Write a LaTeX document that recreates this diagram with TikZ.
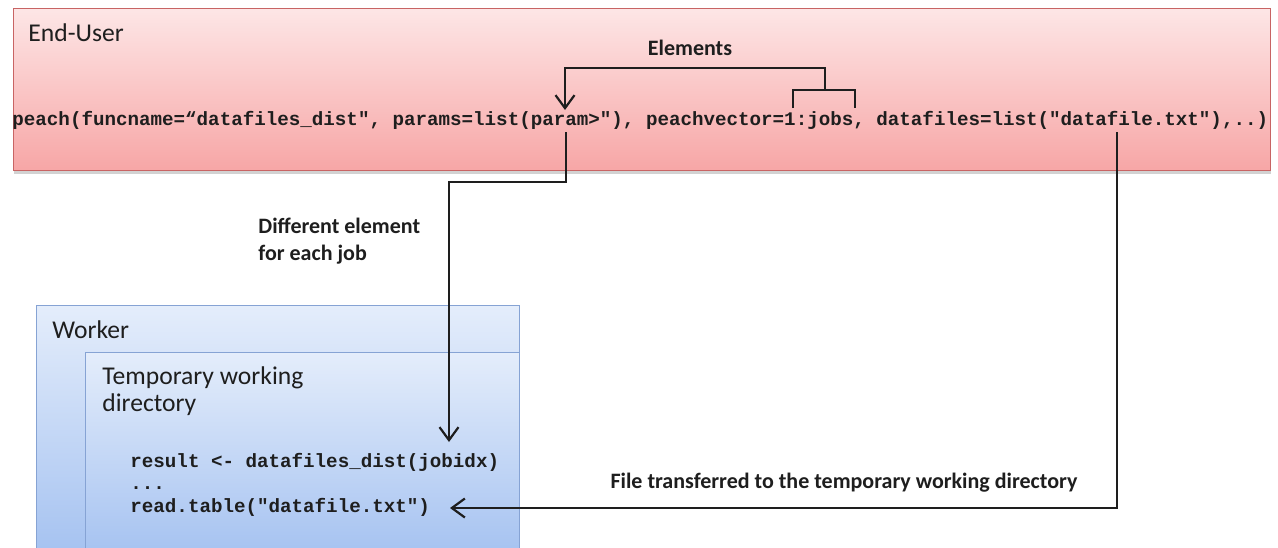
\documentclass[tikz,border=0pt]{standalone}
\usepackage{fontspec}
\setmainfont{Carlito}
\newfontfamily\codefam{Liberation Mono}
\usetikzlibrary{arrows.meta,positioning,shadows}
\definecolor{pinktop}{HTML}{FDE6E6}
\definecolor{pinkbot}{HTML}{F7A6A6}
\definecolor{pinkline}{HTML}{C86464}
\definecolor{bluetop}{HTML}{E4EDFB}
\definecolor{bluebot}{HTML}{A2C0F0}
\definecolor{blueline}{HTML}{86A3D4}
\definecolor{ink}{HTML}{1E1E1E}
\tikzset{
  zone/.style  = {draw, anchor=north west, inner sep=0pt, line width=0.6pt},
  user/.style  = {zone, draw=pinkline, top color=pinktop, bottom color=pinkbot,
                  drop shadow={shadow xshift=0pt, shadow yshift=-1.5pt, opacity=.35}},
  wrk/.style   = {zone, draw=blueline, top color=bluetop, bottom color=bluebot},
  title/.style = {anchor=west, inner sep=0pt, text=ink, font=\fontsize{12.8}{13.5}\selectfont},
  lbl/.style   = {inner sep=0pt, text=ink, font=\fontsize{11}{13.5}\selectfont\bfseries},
  code/.style  = {anchor=base west, inner sep=0pt, text=ink,
                  font=\codefam\bfseries\fontsize{9.6}{11.25}\selectfont},
  e/.style     = {-{Straight Barb[length=6.5pt,width=9.5pt,line width=1.1pt]}, line width=1pt, ink},
  brk/.style   = {line width=1pt, ink}
}

\begin{document}
\begin{tikzpicture}[x=0.5pt,y=-0.5pt]
  \fill[white] (0,0) rectangle (1278,547);
  \useasboundingbox (0,0) rectangle (1278,547);
  \begin{scope}
  \clip (0,0) rectangle (1278,547);
  % boxes
  \node[user, minimum width=628.5pt, minimum height=81pt] (eu) at (13,8) {};
  \node[wrk, minimum width=241.5pt, minimum height=130pt] (wk) at (36,305) {};
  \node[wrk, minimum width=217pt, minimum height=106.5pt] (tmp) at (85,352) {};
  \end{scope}

  % texts
  \node[title] (eut) at (28,33) {End-User};
  \node[title] (wkt) at (52,330) {Worker};
  \node[title, align=left] (tmpt) at (102,391.5) {Temporary working\\directory};
  \node[code] (call) at (12,125)
    {peach(funcname=“datafiles\_dist", params=list(param>"), peachvector=1:jobs, datafiles=list("datafile.txt"),..)};
  \node[code, align=left] (job) at (130,512)
    {result <- datafiles\_dist(jobidx)\\...\\read.table("datafile.txt")};
  \node[lbl] (elm) at (690,48) {Elements};
  \node[lbl, anchor=west, align=left] (diff) at (258,241.5) {Different element\\for each job};
  \node[lbl] (xfer) at (844,483) {File transferred to the temporary working directory};

  % anchor points on the code
  \coordinate (jobs) at (825,90);
  \coordinate (parin) at (565,110);
  \coordinate (parout) at (566,132);
  \coordinate (dfout) at (1117,132);
  \coordinate (jobin) at (449,442);
  \coordinate (readin) at (450,508);

  % connectors
  \draw[brk] (793,108) -- (793,90) -- (855,90) -- (855,108);
  \draw[e] (jobs) -- (825,68) -| (parin);
  \draw[e] (parout) -- (566,182) -| (jobin);
  \draw[e] (dfout) |- (readin);
\end{tikzpicture}
\end{document}
